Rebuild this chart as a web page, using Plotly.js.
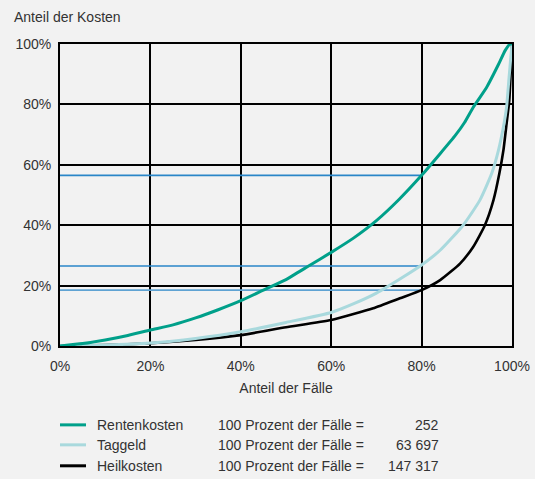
<!DOCTYPE html>
<html><head><meta charset="utf-8">
<script src="https://cdn.plot.ly/plotly-3.0.1.min.js"></script>
<style>html,body{margin:0;padding:0;background:#f2f2f2;}</style>
</head><body>
<div id="chart" style="width:535px;height:479px;"></div>
<script>
// Lorenz-type curves: share of cases (x, %) vs share of costs (y, %)
const rentenX = [0, 5, 10, 15, 20, 25, 30, 35, 40, 45, 50, 55, 60, 65, 70, 75, 80, 84, 87.5, 89.5, 91.4, 94.4, 97, 98.5, 99.6, 100];
const rentenY = [0, 0.8, 2, 3.5, 5.3, 7, 9.3, 12, 15, 18.5, 22, 26.5, 31, 35.8, 41.5, 48.5, 56.5, 63.5, 69.8, 74, 79, 85.7, 93.2, 97.9, 100, 100];
const taggeldX = [0, 10, 20, 30, 40, 50, 60, 65, 70, 76, 80, 84.1, 89.2, 92.9, 95.5, 97, 98.1, 98.8, 99.3, 99.7, 100];
const taggeldY = [0, 0.3, 1, 2.5, 4.7, 7.8, 11.1, 14, 17.5, 22.9, 26.8, 31.7, 40, 48.3, 57.1, 64.8, 72.5, 79.1, 88, 95, 100];
const heilX = [0, 10, 20, 30, 40, 50, 60, 69.3, 75.2, 80, 84.1, 88.5, 91.4, 94, 95.9, 97.2, 98.1, 98.8, 99.4, 99.7, 100];
const heilY = [0, 0.3, 0.9, 2, 3.6, 6.2, 8.6, 12.5, 15.8, 18.5, 21.8, 27.3, 32.8, 40, 48.3, 57.1, 64.8, 73.6, 81.3, 90, 100];
// reference levels at 80 % of cases
const refLevels = [56.5, 26.5, 18.5];
const refColors = ['#2a86c8', '#2a86c8', '#5fa3d3'];
const refX = [0, 80];

const seriesNames = ['Rentenkosten', 'Taggeld', 'Heilkosten'];
const seriesColors = ['#00a08a', '#a9d9dd', '#000000'];
const caseTotals = ['252', '63 697', '147 317'];
const tickVals = [0, 20, 40, 60, 80, 100];
const tickText = ['0%', '20%', '40%', '60%', '80%', '100%'];

const traces = [];
refLevels.forEach((v, i) => traces.push({
  x: refX, y: [v, v], mode: 'lines', line: {color: refColors[i], width: 1.6},
  hoverinfo: 'skip', showlegend: false
}));
traces.push({x: heilX, y: heilY, mode: 'lines', line: {color: seriesColors[2], width: 2.6, shape: 'spline', smoothing: 0.5}, showlegend: false});
traces.push({x: taggeldX, y: taggeldY, mode: 'lines', line: {color: seriesColors[1], width: 3, shape: 'spline', smoothing: 0.5}, showlegend: false});
traces.push({x: rentenX, y: rentenY, mode: 'lines', line: {color: seriesColors[0], width: 3, shape: 'spline', smoothing: 0.5}, showlegend: false});

const font = {family: 'Liberation Sans, Arial, sans-serif', size: 14, color: '#333333'};
const annotations = [{
  text: 'Anteil der Kosten', xref: 'paper', yref: 'paper', x: -48/452, y: (346 - 16) / 302.5,
  xanchor: 'left', yanchor: 'middle', showarrow: false, font: font
}];
const shapes = [];
const rowY = [425, 445, 466];
rowY.forEach((py, i) => {
  const yp = (346 - py) / 302.5;
  shapes.push({type: 'line', xref: 'paper', yref: 'paper', x0: 0, x1: 26/452, y0: yp, y1: yp,
    line: {color: seriesColors[i], width: 3}});
  annotations.push({text: seriesNames[i], xref: 'paper', yref: 'paper', x: 35/452, y: yp,
    xanchor: 'left', yanchor: 'middle', showarrow: false, font: font});
  annotations.push({text: '100 Prozent der Fälle =', xref: 'paper', yref: 'paper', x: 156/452, y: yp,
    xanchor: 'left', yanchor: 'middle', showarrow: false, font: font});
  annotations.push({text: caseTotals[i], xref: 'paper', yref: 'paper', x: 381/452, y: yp,
    xanchor: 'right', yanchor: 'middle', showarrow: false, font: font});
});

const layout = {
  width: 535, height: 479,
  margin: {l: 60, r: 23, t: 43.5, b: 133},
  paper_bgcolor: '#f2f2f2', plot_bgcolor: '#f2f2f2',
  font: font,
  showlegend: false,
  xaxis: {range: [0, 100], tickvals: tickVals, ticktext: tickText, showgrid: true, gridcolor: '#000', gridwidth: 2,
    zeroline: false, showline: true, mirror: true, linecolor: '#000', linewidth: 2,
    ticks: 'outside', ticklen: 6, tickcolor: 'rgba(0,0,0,0)',
    title: {text: 'Anteil der Fälle', font: font, standoff: 10}},
  yaxis: {range: [0, 100], tickvals: tickVals, ticktext: tickText, showgrid: true, gridcolor: '#000', gridwidth: 2,
    zeroline: false, showline: true, mirror: true, linecolor: '#000', linewidth: 2,
    ticks: 'outside', ticklen: 4, tickcolor: 'rgba(0,0,0,0)'},
  annotations: annotations,
  shapes: shapes
};
Plotly.newPlot('chart', traces, layout, {displayModeBar: false, staticPlot: true});
</script>
</body></html>
